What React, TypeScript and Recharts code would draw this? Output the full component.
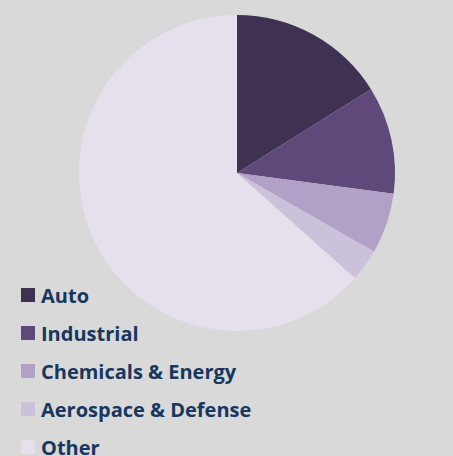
import { Legend, Pie, PieChart, Cell } from "recharts";

const sectors = ["Auto", "Industrial", "Chemicals & Energy", "Aerospace & Defense", "Other"];
const shares = [16.1, 11.0, 6.2, 3.3, 63.4];
const colors = ["#3F3151", "#5F497A", "#B2A1C7", "#CCC1DA", "#E5E0EC"];

const data = sectors.map((name, i) => ({ name, value: shares[i] }));

// keep the legend in data order (recharts sorts the payload)
const LegendList = () => (
    <div>
        {sectors.map((name, i) => (
            <div
                key={name}
                style={{ display: "flex", alignItems: "center", height: 38 }}
            >
                <span
                    style={{
                        width: 14,
                        height: 14,
                        background: colors[i],
                        marginRight: 6,
                        display: "inline-block",
                    }}
                />
                <span
                    style={{
                        fontFamily: "'Open Sans', sans-serif",
                        fontWeight: 700,
                        fontSize: 20,
                        color: "#17375E",
                        whiteSpace: "nowrap",
                    }}
                >
                    {name}
                </span>
            </div>
        ))}
    </div>
);

const App = () => {
    return (
        <div
            style={{
                position: "absolute",
                left: 0,
                top: 0,
                width: 453,
                height: 456,
                background: "#D9D9D9",
                overflow: "hidden",
            }}
        >
            <PieChart width={453} height={456} margin={{ top: 0, right: 0, left: 0, bottom: 0 }}>
                <Pie
                    data={data}
                    dataKey="value"
                    nameKey="name"
                    cx={237}
                    cy={173}
                    outerRadius={158}
                    startAngle={90}
                    endAngle={-270}
                    stroke="none"
                    isAnimationActive={false}
                >
                    {data.map((d, i) => (
                        <Cell key={d.name} fill={colors[i]} />
                    ))}
                </Pie>
                <Legend
                    layout="vertical"
                    content={<LegendList />}
                    wrapperStyle={{ position: "absolute", left: 21, top: 276, width: 320 }}
                />
            </PieChart>
        </div>
    );
};

export default App;
